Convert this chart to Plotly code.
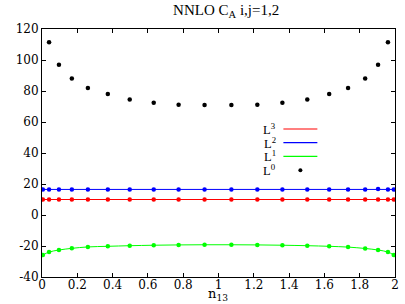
import plotly.graph_objects as go

# x nodes for L^0 (18 points) and for L^1..L^3 (with end points)
x_nodes = [0.040, 0.096, 0.169, 0.260, 0.373, 0.497, 0.633, 0.774, 0.921,
           1.073, 1.220, 1.362, 1.503, 1.627, 1.734, 1.831, 1.904, 1.960]
x_full = [0.005] + x_nodes + [1.993]

L0 = [111.5, 97.0, 88.0, 82.0, 78.0, 74.5, 72.5, 71.2, 71.0,
      71.0, 71.2, 72.5, 74.5, 78.0, 82.0, 88.0, 97.0, 111.5]
L1 = [-25.8, -23.9, -22.6, -21.5, -20.6, -20.2, -19.8, -19.5, -19.3, -19.2,
      -19.2, -19.3, -19.5, -19.8, -20.2, -20.7, -21.6, -22.6, -23.9, -25.8]
L2 = [16.5] * 17 + [16.8] + [16.5] * 2
L3 = [10.0] * 20

x_ticks = [0, 0.2, 0.4, 0.6, 0.8, 1, 1.2, 1.4, 1.6, 1.8, 2]
x_ticktext = ["0", "0.2", "0.4", "0.6", "0.8", "1", "1.2", "1.4", "1.6", "1.8", "2"]
y_ticks = [-40, -20, 0, 20, 40, 60, 80, 100, 120]
y_ticktext = ["-40", "-20", "0", "20", "40", "60", "80", "100", "120"]

legend_labels = ["L<sup>3</sup>", "L<sup>2</sup>", "L<sup>1</sup>", "L<sup>0</sup>"]
legend_colors = ["#ff0000", "#0000ff", "#00ff00", "#000000"]

fig = go.Figure()
fig.add_trace(go.Scatter(x=x_full, y=L3, mode="lines+markers",
                         line=dict(color="#ff0000", width=1),
                         marker=dict(color="#ff0000", size=4.5, symbol="circle")))
fig.add_trace(go.Scatter(x=x_full, y=L2, mode="lines+markers",
                         line=dict(color="#0000ff", width=1),
                         marker=dict(color="#0000ff", size=4.5, symbol="circle")))
fig.add_trace(go.Scatter(x=x_full, y=L1, mode="lines+markers",
                         line=dict(color="#00ff00", width=1, shape="spline"),
                         marker=dict(color="#00ff00", size=4.5, symbol="circle")))
fig.add_trace(go.Scatter(x=x_nodes, y=L0, mode="markers",
                         marker=dict(color="#000000", size=4.5)))

# plot area in pixels: left 41.7, right 395, top 29, bottom 277
pl, pr, pt, pb = 41.7, 395.0, 29.0, 277.0


def px_x(p):
    return (p - pl) / (pr - pl)


def px_y(p):
    return (pb - p) / (pb - pt)


leg_y = [129.0, 142.7, 156.3, 170.3]
for lab, col, yy in zip(legend_labels, legend_colors, leg_y):
    fig.add_annotation(x=px_x(278), y=px_y(yy), xref="paper", yref="paper",
                       text=lab, showarrow=False, xanchor="right", yanchor="middle",
                       font=dict(family="Liberation Serif", size=12.5, color="#000000"))
    if col != "#000000":
        fig.add_shape(type="line", xref="paper", yref="paper",
                      x0=px_x(283.3), x1=px_x(317.3), y0=px_y(yy), y1=px_y(yy),
                      line=dict(color=col, width=1.2))
    else:
        fig.add_shape(type="circle", xref="paper", yref="paper",
                      xsizemode="pixel", ysizemode="pixel",
                      xanchor=px_x(300.3), yanchor=px_y(yy),
                      x0=-2, x1=2, y0=-2, y1=2,
                      fillcolor="#000000", line=dict(color="#000000", width=0))

# x axis title
fig.add_annotation(x=px_x(218), y=px_y(294), xref="paper", yref="paper",
                   text="n<sub>13</sub>", showarrow=False, xanchor="center",
                   yanchor="middle",
                   font=dict(family="DejaVu Serif", size=13, color="#000000"))

fig.update_layout(
    width=405, height=304,
    margin=dict(l=41.7, r=10, t=29, b=27, pad=0),
    paper_bgcolor="white", plot_bgcolor="white",
    showlegend=False,
    font=dict(family="DejaVu Serif", size=12, color="#000000"),
    title=dict(text="NNLO C<sub>A</sub> i,j=1,2", x=px_x(226), xref="paper",
               xanchor="center", y=1 - 10 / 304, yref="container", yanchor="middle",
               font=dict(family="Liberation Serif", size=15, color="#000000")),
)
fig.update_xaxes(range=[0, 2], tickvals=x_ticks, ticktext=x_ticktext,
                 ticks="inside", ticklen=4, tickcolor="#000000",
                 showline=True, linecolor="#000000", linewidth=1, mirror="ticks",
                 showgrid=False, zeroline=False, automargin=False,
                 ticklabelstandoff=-3,
                 tickfont=dict(family="DejaVu Serif", size=12))
fig.update_yaxes(range=[-40, 120], tickvals=y_ticks, ticktext=y_ticktext,
                 ticks="inside", ticklen=4, tickcolor="#000000",
                 showline=True, linecolor="#000000", linewidth=1, mirror="ticks",
                 showgrid=False, zeroline=False, automargin=False,
                 tickfont=dict(family="DejaVu Serif", size=12))

fig.write_html("out.html", config={"displayModeBar": False},
               post_script="document.body.style.margin='0';document.body.style.padding='0';")
